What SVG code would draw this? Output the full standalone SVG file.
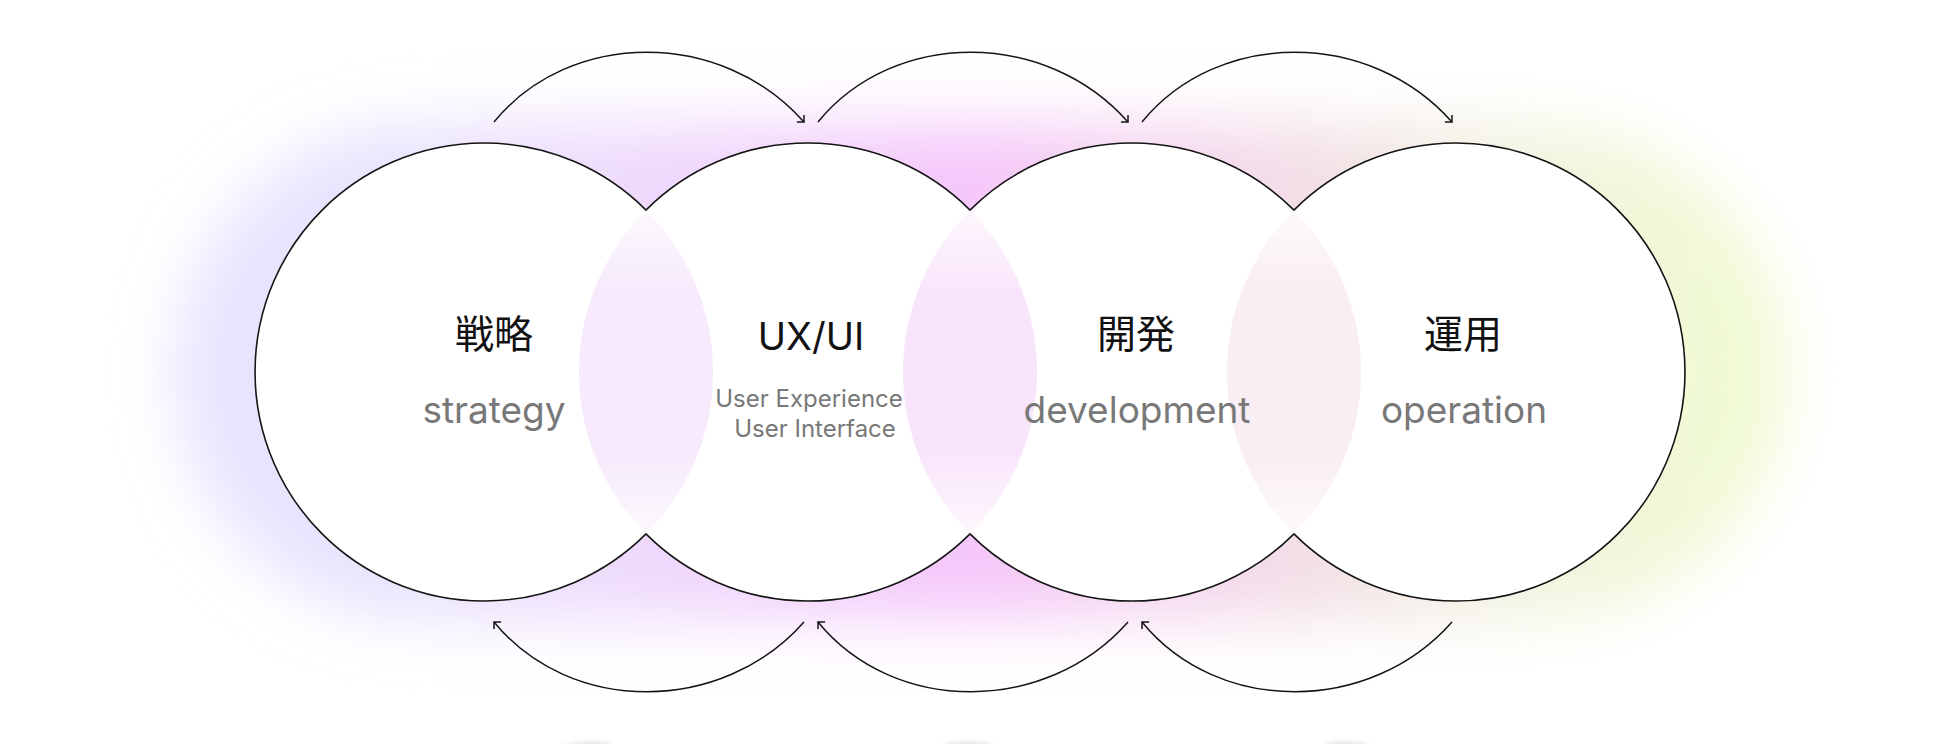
<svg xmlns="http://www.w3.org/2000/svg" width="1950" height="744" viewBox="0 0 1950 744">
  <defs>
    <style>
      .outline { fill: #ffffff; stroke: #141414; stroke-width: 1.6; }
      .arc { fill: none; stroke: #141414; stroke-width: 1.5; }
      .title { font-family: "Noto Sans CJK JP", "Noto Sans", sans-serif; font-size: 39px; fill: #111111; text-anchor: middle; }
      .title-lat { font-family: Inter, "Noto Sans", sans-serif; font-size: 38px; fill: #111111; text-anchor: middle; }
      .sub { font-family: Inter, "Noto Sans", sans-serif; font-size: 37px; fill: #787878; text-anchor: middle; }
      .sub-s { font-family: Inter, "Noto Sans", sans-serif; font-size: 24px; fill: #787878; text-anchor: middle; }
    </style>
    <linearGradient id="glowGrad" gradientUnits="userSpaceOnUse" x1="175" y1="0" x2="1785" y2="0">
      <stop offset="0" stop-color="#e6e5fe"/>
      <stop offset="0.15" stop-color="#e8e2fd"/>
      <stop offset="0.29" stop-color="#eed9fb"/>
      <stop offset="0.49" stop-color="#f5c6fa"/>
      <stop offset="0.69" stop-color="#f3dde7"/>
      <stop offset="0.85" stop-color="#f2f5de"/>
      <stop offset="1" stop-color="#f0fbd0"/>
    </linearGradient>
    <filter id="blur" x="-20%" y="-40%" width="140%" height="180%">
      <feGaussianBlur stdDeviation="30"/>
    </filter>
    <filter id="blurSmall" x="-50%" y="-200%" width="200%" height="500%">
      <feGaussianBlur stdDeviation="3"/>
    </filter>
    <linearGradient id="lens1" x1="0" y1="0" x2="0" y2="1">
      <stop offset="0" stop-color="#f6eafc" stop-opacity="0.3"/>
      <stop offset="0.25" stop-color="#f6eafc"/>
      <stop offset="0.75" stop-color="#f6eafc"/>
      <stop offset="1" stop-color="#f6eafc" stop-opacity="0.3"/>
    </linearGradient>
    <linearGradient id="lens2" x1="0" y1="0" x2="0" y2="1">
      <stop offset="0" stop-color="#f9e5fb" stop-opacity="0.3"/>
      <stop offset="0.25" stop-color="#f9e5fb"/>
      <stop offset="0.75" stop-color="#f9e5fb"/>
      <stop offset="1" stop-color="#f9e5fb" stop-opacity="0.3"/>
    </linearGradient>
    <linearGradient id="lens3" x1="0" y1="0" x2="0" y2="1">
      <stop offset="0" stop-color="#f9eef3" stop-opacity="0.3"/>
      <stop offset="0.25" stop-color="#f9eef3"/>
      <stop offset="0.75" stop-color="#f9eef3"/>
      <stop offset="1" stop-color="#f9eef3" stop-opacity="0.3"/>
    </linearGradient>
    <marker id="headDown" markerUnits="userSpaceOnUse" viewBox="-8 -8 10 16" refX="0" refY="0" markerWidth="10" markerHeight="16" orient="45">
      <path d="M-5,-5 L0,0 L-5,5" fill="none" stroke="#141414" stroke-width="1.5"/>
    </marker>
    <marker id="headUp" markerUnits="userSpaceOnUse" viewBox="-8 -8 10 16" refX="0" refY="0" markerWidth="10" markerHeight="16" orient="225">
      <path d="M-5,-5 L0,0 L-5,5" fill="none" stroke="#141414" stroke-width="1.5"/>
    </marker>
  </defs>

  <rect width="1950" height="744" fill="#ffffff"/>

  <!-- background glow -->
  <g id="glow">
    <rect x="175" y="125" width="1610" height="494" rx="247" ry="247" fill="url(#glowGrad)" filter="url(#blur)"/>
  </g>

  <!-- faint cut-off shapes at bottom edge -->
  <g id="bottom-shadows" fill="#d9d9d9" filter="url(#blurSmall)">
    <ellipse cx="589" cy="748" rx="24" ry="5"/>
    <ellipse cx="968" cy="748" rx="24" ry="5"/>
    <ellipse cx="1346" cy="748" rx="24" ry="5"/>
  </g>

  <!-- union outline of the four circles -->
  <g id="circles">
    <path class="outline" d="M646,210.1 A229,229 0 1 0 646,533.9 A229,229 0 0 0 970,533.9 A229,229 0 0 0 1294,533.9 A229,229 0 1 0 1294,210.1 A229,229 0 0 0 970,210.1 A229,229 0 0 0 646,210.1 Z"/>
    <path fill="url(#lens1)" d="M646,210.1 A229,229 0 0 0 646,533.9 A229,229 0 0 0 646,210.1 Z"/>
    <path fill="url(#lens2)" d="M970,210.1 A229,229 0 0 0 970,533.9 A229,229 0 0 0 970,210.1 Z"/>
    <path fill="url(#lens3)" d="M1294,210.1 A229,229 0 0 0 1294,533.9 A229,229 0 0 0 1294,210.1 Z"/>
  </g>

  <g id="node-strategy">
    <text class="title" x="494" y="348">戦略</text>
    <text class="sub" x="494" y="423">strategy</text>
  </g>
  <g id="node-uxui">
    <text class="title-lat" x="811" y="350">UX/UI</text>
    <text class="sub-s" x="809" y="407">User Experience</text>
    <text class="sub-s" x="815" y="437">User Interface</text>
  </g>
  <g id="node-development">
    <text class="title" x="1136" y="348">開発</text>
    <text class="sub" x="1137" y="423">development</text>
  </g>
  <g id="node-operation">
    <text class="title" x="1463" y="348">運用</text>
    <text class="sub" x="1464" y="423">operation</text>
  </g>

  <g id="connectors">
    <path class="arc" d="M494,122 C570,29 722,29 804,122" marker-end="url(#headDown)"/>
    <path class="arc" d="M818,122 C894,29 1046,29 1128,122" marker-end="url(#headDown)"/>
    <path class="arc" d="M1142,122 C1218,29 1370,29 1452,122" marker-end="url(#headDown)"/>
    <path class="arc" d="M804,622 C722,715 570,715 494,622" marker-end="url(#headUp)"/>
    <path class="arc" d="M1128,622 C1046,715 894,715 818,622" marker-end="url(#headUp)"/>
    <path class="arc" d="M1452,622 C1370,715 1218,715 1142,622" marker-end="url(#headUp)"/>
  </g>
</svg>
